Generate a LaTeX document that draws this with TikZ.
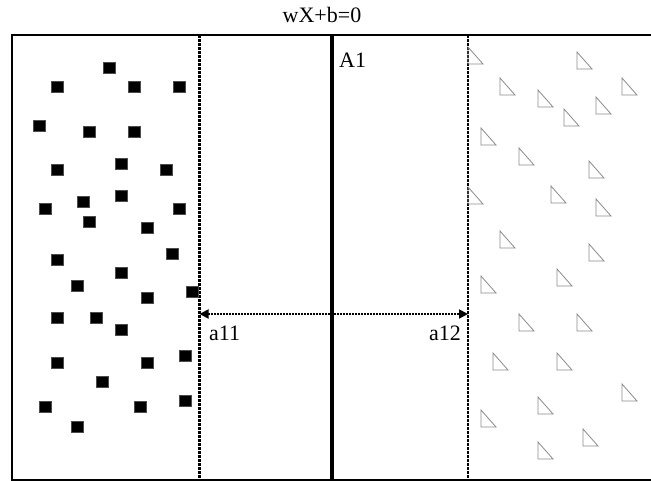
\documentclass[tikz,border=0pt]{standalone}
\usepackage{fontspec}
\setmainfont{Liberation Serif}
\usetikzlibrary{arrows.meta,positioning}
\definecolor{inkgray}{HTML}{8A8A8A}
\tikzset{
  frameline/.style={line width=1.6pt,black},
  hyperplane/.style={line width=4pt,black},
  marginline/.style={line width=2.2pt,black,dash pattern=on 3pt off 1pt},
  gap/.style={{Triangle[length=9pt,width=9pt]}-{Triangle[length=9pt,width=9pt]},line width=1.8pt,dash pattern=on 2pt off 1pt},
  posdot/.style={rectangle,fill=black,draw=black!70,line width=0.3pt,minimum width=12pt,minimum height=11pt,inner sep=0pt},
  negtri/.style={draw=inkgray,line width=0.8pt},
  plainlabel/.style={font=\fontsize{22pt}{25pt}\selectfont,inner sep=0pt}
}
\begin{document}
\begin{tikzpicture}[x=1pt,y=-1pt]
    \useasboundingbox (0,0) rectangle (651,481);
    % frame, open on the right
    \draw[frameline] (660,35) -- (12,35) -- (12,480) -- (660,480);
    % hyperplane and the two margins
    \coordinate (htop) at (332,35);
    \coordinate (hbot) at (332,480);
    \coordinate (ltop) at (199.5,35);
    \coordinate (lbot) at (199.5,480);
    \coordinate (rtop) at (468,35);
    \coordinate (rbot) at (468,480);
    \draw[hyperplane] (htop) -- (hbot);
    \draw[marginline] (ltop) -- (lbot);
    \draw[marginline] (rtop) -- (rbot);
    \coordinate (gapl) at (199.5,314);
    \coordinate (gapr) at (468,314);
    \draw[gap] (gapl) -- (gapr);
    % labels
    \node[plainlabel,anchor=base] (title) at (322,23) {wX+b=0};
    \node[plainlabel,anchor=base west] (hlabel) at (339,68) {A1};
    \node[plainlabel,anchor=base west] (llabel) at (209,341) {a11};
    \node[plainlabel,anchor=base east] (rlabel) at (461,341) {a12};
    % class +1 samples
    \foreach \x/\y [count=\i] in {109/68,57/87,134/87,179/87,39/126,89/132,134/132,57/170,121/164,166/170,
      45/209,83/202,121/196,179/209,89/222,147/228,172/254,57/260,121/273,77/286,147/298,192/292,
      57/318,96/318,121/330,57/363,147/363,185/356,102/382,45/407,140/407,185/401,77/427}
      \node[posdot] (p\i) at (\x,\y) {};
    % class -1 samples
    \foreach \x/\y in {468/47,577/52,622/78,500/78,538/90,596/97,564/109,481/128,519/148,589/161,
      468/187,551/186,596/199,500/231,589/244,481/276,557/269,519/314,577/314,493/353,557/353,
      622/384,538/397,481/410,583/429,538/442}
      \draw[negtri] (\x,\y) -- ++(0,17) -- ++(15,0) -- cycle;
  \end{tikzpicture}
\end{document}
